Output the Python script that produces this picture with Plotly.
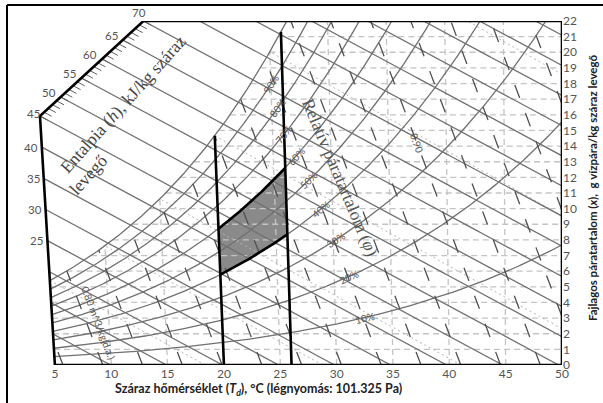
import numpy as np
import plotly.graph_objects as go

# ---------------- chart values ----------------
P_ATM = 101.325                      # kPa
rh_levels = [10, 20, 30, 40, 50, 60, 70, 80, 90, 100]
rh_label_levels = [10, 20, 30, 40, 50, 60, 70, 80, 90]
rh_label_T = [32.6, 31.3, 30.2, 29.0, 28.0, 27.0, 26.0, 25.5, 25.0]
enthalpy_levels = list(range(10, 106, 5))
enthalpy_tick_levels = list(range(45, 71))
enthalpy_edge_labels = [25, 30, 35, 40]
enthalpy_diag_labels = [45, 50, 55, 60, 65, 70]
volume_levels = [0.79, 0.80, 0.81, 0.82, 0.83, 0.84, 0.85, 0.86, 0.87,
                 0.88, 0.89, 0.90, 0.91, 0.92, 0.93, 0.94]
volume_labels = {0.80: "0.80 m^3/kg(d.a.)", 0.90: "0.90"}
wetbulb_levels = [5, 10, 15, 20, 25, 30]
drybulb_grid = [10, 15, 20, 25, 30, 35, 40, 45]
w_grid = list(range(1, 22))
comfort_T = [20, 26]
comfort_RH = [40, 60]
x_ticks = list(range(5, 51, 5))
y_ticks = list(range(0, 23))
T_LEFT, T_RIGHT, W_TOP = 5, 50, 22
H_CORNER, H_TOP = 45, 70

# ---------------- layout geometry ----------------
FIG_W, FIG_H = 603, 403
M_L, M_R, M_T, M_B = 38, 41, 21, 38
X_MIN = 3.5
PW, PH = FIG_W - M_L - M_R, FIG_H - M_T - M_B
PX_X = PW / (T_RIGHT - X_MIN)
PX_W = PH / W_TOP

def px2paper(px, py):
    return (px - M_L) / PW, (FIG_H - M_B - py) / PH

# ---------------- psychrometrics ----------------
C = 1.86 / 1006.0

def psat(T):
    return 0.61094 * np.exp(17.625 * T / (T + 243.04))

def wrh(T, rh=100.0):
    p = rh / 100.0 * psat(T)
    return 622.0 * p / (P_ATM - p)

def X(T, W):
    return T + W * C * (T - 50.0)

def T_of(x, W):
    return (x + 50.0 * W * C) / (1.0 + W * C)

W1 = (H_CORNER - 1.006 * T_LEFT) * 1000.0 / (2501.0 + 1.86 * T_LEFT)
P1 = (X(T_LEFT, W1), W1)
P2 = ((H_TOP - 2.594 * W_TOP) / 1.006, W_TOP)

def x_left(W):
    if W <= W1:
        return X(T_LEFT, W)
    return P1[0] + (W - W1) / (W_TOP - W1) * (P2[0] - P1[0])

def inside(x, w, sat):
    e = 1e-7
    if w < -e or w > W_TOP + e or x > T_RIGHT + e:
        return False
    if x < x_left(w) - e:
        return False
    if sat and w > wrh(T_of(x, w)) + 1e-6:
        return False
    return True

def clip(f, t0, t1, sat, n=400):
    xs, ws = [], []
    prev_in, prev_t = None, None
    for t in np.linspace(t0, t1, n):
        x, w = f(t)
        cur = inside(x, w, sat)
        if prev_in is not None and cur != prev_in:
            a, b = prev_t, t
            for _ in range(40):
                m = 0.5 * (a + b)
                if inside(*f(m), sat) == prev_in:
                    a = m
                else:
                    b = m
            xb, wb = f(0.5 * (a + b))
            xs.append(xb); ws.append(wb)
            if prev_in:
                xs.append(None); ws.append(None)
        if cur:
            xs.append(x); ws.append(w)
        prev_in, prev_t = cur, t
    xs.append(None); ws.append(None)
    return xs, ws

def collect(curves):
    X_, W_ = [], []
    for xs, ws in curves:
        X_ += xs; W_ += ws
    return X_, W_

fig = go.Figure()

def add(xs, ws, color, width, dash="solid", fill=None, fillcolor=None):
    fig.add_trace(go.Scatter(x=xs, y=ws, mode="lines", cliponaxis=False,
                             line=dict(color=color, width=width, dash=dash),
                             fill=fill, fillcolor=fillcolor,
                             hoverinfo="skip", showlegend=False))

# comfort zone fill
cz_x, cz_w = [], []
for T in np.linspace(comfort_T[0], comfort_T[1], 60):
    w = wrh(T, comfort_RH[0]); cz_x.append(X(T, w)); cz_w.append(w)
for w in np.linspace(wrh(comfort_T[1], comfort_RH[0]), wrh(comfort_T[1], comfort_RH[1]), 20):
    cz_x.append(X(comfort_T[1], w)); cz_w.append(w)
for T in np.linspace(comfort_T[1], comfort_T[0], 60):
    w = wrh(T, comfort_RH[1]); cz_x.append(X(T, w)); cz_w.append(w)
for w in np.linspace(wrh(comfort_T[0], comfort_RH[1]), wrh(comfort_T[0], comfort_RH[0]), 20):
    cz_x.append(X(comfort_T[0], w)); cz_w.append(w)
add(cz_x, cz_w, "rgba(0,0,0,0)", 0, fill="toself", fillcolor="#8a8a8a")

# grid: horizontal humidity lines
gx, gw = collect([clip(lambda T, W=W: (X(T, W), W), T_LEFT, T_RIGHT, True) for W in w_grid])
add(gx, gw, "#c4c4c4", 1.3, dash="6px,4px")
# grid: dry bulb lines
gx, gw = collect([clip(lambda W, T=T: (X(T, W), W), 0, W_TOP, True) for T in drybulb_grid])
add(gx, gw, "#c4c4c4", 1.3, dash="6px,4px")

# wet bulb lines
def wb_line(Twb):
    ws = wrh(Twb) / 1000.0
    def f(W):
        w = W / 1000.0
        T = ((2501 - 2.326 * Twb) * ws - w * (2501 - 4.186 * Twb) + 1.006 * Twb) / (1.006 + 1.86 * w)
        return X(T, W), W
    return clip(f, 0, wrh(Twb), True)
gx, gw = collect([wb_line(t) for t in wetbulb_levels])
add(gx, gw, "#b5b5b5", 1.0, dash="2px,3px")

# enthalpy lines
gx, gw = collect([clip(lambda W, h=h: ((h - 2.594 * W) / 1.006, W), 0, W_TOP, False)
                  for h in enthalpy_levels])
add(gx, gw, "#707070", 1.3)

# relative humidity curves
gx, gw = collect([clip(lambda T, r=r: (X(T, wrh(T, r)), wrh(T, r)), T_LEFT, T_RIGHT, False)
                  for r in rh_levels])
add(gx, gw, "#707070", 1.3)

# specific volume lines
def v_line(v):
    def f(W):
        T = v * P_ATM / (0.287042 * (1 + 1.607858 * W / 1000.0)) - 273.15
        return X(T, W), W
    return f
gx, gw = collect([clip(v_line(v), 0, W_TOP, True) for v in volume_levels])
add(gx, gw, "#505050", 1.3, dash="14px,16px")

# comfort zone borders (thick)
for T in comfort_T:
    xs, ws = clip(lambda W, T=T: (X(T, W), W), 0, W_TOP, True)
    add(xs, ws, "#000000", 2.6)
for r in comfort_RH:
    Ts = np.linspace(comfort_T[0], comfort_T[1], 60)
    add([X(t, wrh(t, r)) for t in Ts], [wrh(t, r) for t in Ts], "#000000", 2.6)

# enthalpy scale ticks along the diagonal edge
tx, tw = [], []
for h in enthalpy_tick_levels:
    s = (h - H_CORNER) / (H_TOP - H_CORNER)
    x0 = P1[0] + s * (P2[0] - P1[0]); w0 = P1[1] + s * (P2[1] - P1[1])
    dW = -0.26
    tx += [x0, x0 - 2.594 * dW / 1.006, None]; tw += [w0, w0 + dW, None]
add(tx, tw, "#606060", 1.0)

# chart boundary
Ws = np.linspace(0, W1, 30)
bx = [X(T_LEFT, w) for w in Ws] + [P2[0], T_RIGHT, T_RIGHT, T_LEFT]
bw = list(Ws) + [W_TOP, W_TOP, 0, 0]
add(bx, bw, "#000000", 2.6)

ann = []
# RH labels
for r, T in zip(rh_label_levels, rh_label_T):
    w = wrh(T, r); x = X(T, w)
    dT = 0.05
    w2 = wrh(T + dT, r); x2 = X(T + dT, w2)
    ang = -np.degrees(np.arctan2((w2 - w) * PX_W, (x2 - x) * PX_X))
    ann.append(dict(x=x, y=w, xref="x", yref="y", text=f"{r}%", showarrow=False,
                    textangle=ang, font=dict(family="Lato", size=10, color="#555555")))
# volume labels
for v, txt in volume_labels.items():
    f = v_line(v)
    Wl = 2.7 if v < 0.85 else 14.2
    x, w = f(Wl); x2, w2 = f(Wl - 0.2)
    ang = np.degrees(np.arctan2((w - w2) * PX_W, (x2 - x) * PX_X))
    ann.append(dict(x=x, y=w, xref="x", yref="y", text=txt, showarrow=False,
                    xshift=12 if v < 0.85 else 0, textangle=ang,
                    font=dict(family="Lato", size=10, color="#555555")))
# enthalpy labels on the left edge
for h in enthalpy_edge_labels:
    w = (h - 1.006 * T_LEFT) * 1000.0 / (2501.0 + 1.86 * T_LEFT)
    ann.append(dict(x=X(T_LEFT, w), y=w, xref="x", yref="y", text=str(h), showarrow=False,
                    xanchor="right", xshift=-2,
                    font=dict(family="Lato", size=11.5, color="#555555")))
diag_shift = {45: (-4, 3), 50: (-9, 5), 55: (-9, 5), 60: (-9, 5), 65: (-9, 5), 70: (-4, 9)}
for h in enthalpy_diag_labels:
    s = (h - H_CORNER) / (H_TOP - H_CORNER)
    x0 = P1[0] + s * (P2[0] - P1[0]); w0 = P1[1] + s * (P2[1] - P1[1])
    dx, dy = diag_shift[h]
    ann.append(dict(x=x0, y=w0, xref="x", yref="y", text=str(h), showarrow=False,
                    xanchor="right" if h < 70 else "center", xshift=dx + (6 if h < 70 else 0), yshift=dy,
                    font=dict(family="Lato", size=11.5, color="#555555")))

def pann(px, py, text, size, angle=0, family="Liberation Serif", color="#444444", bold=False):
    x, y = px2paper(px, py)
    ann.append(dict(x=x, y=y, xref="paper", yref="paper", text=text, showarrow=False,
                    textangle=angle, xanchor="center", yanchor="middle",
                    font=dict(family=family, size=size, color=color,
                              weight="bold" if bold else "normal")))

pann(123, 104, "Entalpia (<i>h</i>), kJ/kg száraz", 17.5, -48)
pann(88, 175, "levegő", 17.5, -48)
pann(340, 177, "Relatív páratartalom (<i>φ</i>)", 17.5, 67, color="#555555")
pann(258, 390, "Száraz hőmérséklet (<i>T<sub>d</sub></i>), °C (légnyomás: 101.325 Pa)", 12.5,
     family="Lato", color="#222222", bold=True)
pann(592, 188, "Fajlagos páratartalom (<i>x</i>),  g vízpára/kg száraz levegő", 11.5, -90,
     family="Lato", color="#222222", bold=True)

# outer frame (top and left edges)
fx0, fy0 = px2paper(7, 5)
fx1, fy1 = px2paper(610, 410)
shapes = [dict(type="line", xref="paper", yref="paper", x0=fx0, y0=fy0, x1=fx1, y1=fy0,
               line=dict(color="#000", width=2)),
          dict(type="line", xref="paper", yref="paper", x0=fx0, y0=fy0, x1=fx0, y1=fy1,
               line=dict(color="#000", width=2))]

fig.update_layout(
    width=FIG_W, height=FIG_H,
    margin=dict(l=M_L, r=M_R, t=M_T, b=M_B, pad=0),
    paper_bgcolor="white", plot_bgcolor="white",
    xaxis=dict(range=[X_MIN, T_RIGHT], tickvals=x_ticks, showgrid=False, zeroline=False,
               showline=False, ticks="", ticklabelstandoff=0,
               tickfont=dict(family="Lato", size=12, color="#555555")),
    yaxis=dict(range=[0, W_TOP], tickvals=y_ticks, side="right", showgrid=False, zeroline=False,
               showline=False, ticks="", tickfont=dict(family="Lato", size=12, color="#555555")),
    annotations=ann, shapes=shapes,
)
fig.write_html("out.html", config={"displayModeBar": False},
               post_script="document.body.style.margin='0';document.body.style.overflow='hidden';")
